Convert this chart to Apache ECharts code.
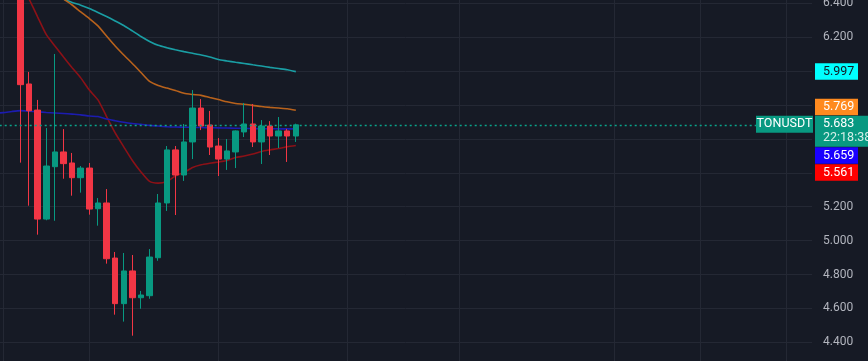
<!DOCTYPE html>
<html>
<head>
<meta charset="utf-8">
<script src="https://cdn.jsdelivr.net/npm/echarts@6/dist/echarts.min.js"></script>
<style>
html,body{margin:0;padding:0;background:#161a25;}
#chart{width:868px;height:361px;}
</style>
</head>
<body>
<div id="chart"></div>
<script>
// ---- data (daily bars, TONUSDT) ----
const symbol = 'TONUSDT';
const countdown = '22:18:38';
const firstCandleIndex = 3;   // category index of first visible candle
const categoryCount = 96;
const categories = Array.from({length: categoryCount}, (_, i) => 'Bar ' + (i + 1));

const opens  = [6.52, 5.924, 5.770, 5.127, 5.436, 5.523, 5.458, 5.371, 5.428, 5.188, 5.222, 4.897, 4.628, 4.821, 4.663, 4.675, 4.899, 5.222, 5.535, 5.387, 5.582, 5.782, 5.682, 5.558, 5.481, 5.523, 5.641, 5.688, 5.582, 5.676, 5.617, 5.647, 5.617];
const closes = [5.920, 5.766, 5.127, 5.440, 5.523, 5.454, 5.371, 5.428, 5.186, 5.222, 4.893, 4.628, 4.821, 4.663, 4.679, 4.903, 5.222, 5.535, 5.387, 5.582, 5.782, 5.676, 5.552, 5.481, 5.529, 5.647, 5.688, 5.582, 5.676, 5.617, 5.647, 5.617, 5.683];
const lows   = [5.460, 5.206, 5.035, 5.120, 5.117, 5.365, 5.265, 5.283, 5.153, 5.088, 4.864, 4.563, 4.522, 4.439, 4.598, 4.657, 4.881, 5.175, 5.151, 5.352, 5.481, 5.652, 5.505, 5.381, 5.417, 5.428, 5.611, 5.552, 5.452, 5.505, 5.546, 5.464, 5.582];
const highs  = [6.56, 5.995, 5.830, 5.664, 6.101, 5.658, 5.517, 5.440, 5.458, 5.251, 5.304, 4.933, 4.927, 4.915, 4.703, 4.950, 5.275, 5.558, 5.558, 5.688, 5.888, 5.835, 5.765, 5.605, 5.599, 5.650, 5.812, 5.806, 5.711, 5.705, 5.729, 5.659, 5.690];

// moving averages, one value per category index starting at the given index
const cyanStart = 8;
const cyanMA = [6.425, 6.405, 6.389, 6.369, 6.346, 6.322, 6.296, 6.269, 6.237, 6.204, 6.175, 6.152, 6.138, 6.126, 6.115, 6.105, 6.095, 6.083, 6.068, 6.060, 6.052, 6.045, 6.037, 6.030, 6.022, 6.015, 6.008, 5.997];
const orangeStart = 8;
const orangeMA = [6.425, 6.39, 6.349, 6.310, 6.267, 6.207, 6.148, 6.095, 6.045, 5.992, 5.939, 5.915, 5.900, 5.886, 5.869, 5.862, 5.857, 5.844, 5.832, 5.819, 5.809, 5.804, 5.798, 5.791, 5.786, 5.782, 5.778, 5.769];
const redStart = 4;
const redMA = [6.425, 6.319, 6.215, 6.148, 6.083, 6.020, 5.960, 5.888, 5.830, 5.732, 5.635, 5.553, 5.473, 5.405, 5.349, 5.339, 5.349, 5.381, 5.402, 5.431, 5.447, 5.456, 5.464, 5.473, 5.490, 5.499, 5.511, 5.526, 5.535, 5.543, 5.554, 5.561];
const blueStart = 0;
const blueMA = [5.752, 5.755, 5.762, 5.767, 5.763, 5.760, 5.756, 5.753, 5.750, 5.746, 5.742, 5.735, 5.732, 5.717, 5.707, 5.698, 5.691, 5.686, 5.680, 5.676, 5.672, 5.670, 5.669, 5.668, 5.667, 5.666, 5.665, 5.664, 5.663, 5.662, 5.661, 5.660, 5.660, 5.659, 5.659, 5.659];

const yTicks = [4.2, 4.4, 4.6, 4.8, 5.0, 5.2, 5.4, 5.6, 5.8, 6.0, 6.2, 6.4, 6.6];
const gridLineBars = [1, 11, 26, 41, 54, 72, 82, 92];

// ---- build ----
const candleData = opens.map((o, k) => [firstCandleIndex + k, o, closes[k], lows[k], highs[k]]);
const toLine = (start, arr) => arr.map((v, i) => [start + i, v]);
const lastPrice = closes[closes.length - 1];

const UP = '#089981', DOWN = '#f23645';
const chart = echarts.init(document.getElementById('chart'), null, {renderer: 'canvas'});

const lineSeries = (name, start, arr, color) => ({
  name, type: 'line', data: toLine(start, arr), showSymbol: false, symbol: 'none',
  smooth: 0.2, lineStyle: {color, width: 1.6}, z: 1, silent: true, animation: false
});

chart.setOption({
  backgroundColor: '#161a25',
  animation: false,
  grid: {left: -5.3, right: 55.9, top: -30.6, bottom: -15.2, containLabel: false, outerBoundsMode: 'none'},
  xAxis: {
    type: 'category', data: categories, boundaryGap: false,
    axisLine: {show: false}, axisTick: {show: false}, axisLabel: {show: false},
    splitLine: {show: true, interval: (idx) => gridLineBars.includes(idx), lineStyle: {color: '#242834', width: 1}}
  },
  yAxis: {
    type: 'value', position: 'right', min: yTicks[0], max: yTicks[yTicks.length - 1], interval: 0.2,
    axisLine: {show: false}, axisTick: {show: false},
    axisLabel: {color: '#b2b5be', fontSize: 12, fontFamily: 'Roboto', margin: 11,
      formatter: (v) => v.toFixed(3)},
    splitLine: {lineStyle: {color: '#242834', width: 1}}
  },
  series: [
    lineSeries('MA long', cyanStart, cyanMA, '#1a9ea4'),
    lineSeries('MA mid', orangeStart, orangeMA, '#b8621c'),
    lineSeries('MA fast', redStart, redMA, '#8c1117'),
    lineSeries('MA blue', blueStart, blueMA, '#1c1cb0'),
    {
      name: symbol, type: 'candlestick', data: candleData,
      encode: {x: 0, y: [1, 2, 3, 4]},
      barWidth: 6, z: 3,
      itemStyle: {color: UP, color0: DOWN, borderColor: UP, borderColor0: DOWN, borderWidth: 1},
      markLine: {
        silent: true, symbol: 'none', label: {show: false},
        lineStyle: {color: '#0aa58b', width: 1.3, type: [2, 3], opacity: 1},
        data: [{yAxis: lastPrice}]
      }
    }
  ]
});

// ---- right-side price labels ----
const yPix = (v) => chart.convertToPixel({yAxisIndex: 0}, v);
const boxX = 815, boxW = 43, boxH = 16.5, gap = 0.5;
const mainTop = yPix(lastPrice) - 9, mainH = 31;
const above = [{v: cyanMA[cyanMA.length - 1], bg: '#00ffff', fg: '#131722'},
               {v: orangeMA[orangeMA.length - 1], bg: '#ff8a1f', fg: '#ffffff'}];
const below = [{v: blueMA[blueMA.length - 1], bg: '#1a00ff', fg: '#ffffff'},
               {v: redMA[redMA.length - 1], bg: '#ff0000', fg: '#ffffff'}];
const boxes = [];
let limit = mainTop - gap;
above.slice().sort((a, b) => a.v - b.v).forEach(l => {
  let top = yPix(l.v) - boxH / 2;
  if (top + boxH > limit) top = limit - boxH;
  boxes.push({top, ...l});
  limit = top - gap;
});
limit = mainTop + mainH + gap;
below.slice().sort((a, b) => b.v - a.v).forEach(l => {
  let top = yPix(l.v) - boxH / 2;
  if (top < limit) top = limit;
  boxes.push({top, ...l});
  limit = top + boxH + gap;
});
const font = '12.5px Roboto';
const graphics = [];
boxes.forEach(b => {
  graphics.push({type: 'rect', shape: {x: boxX, y: b.top, width: boxW, height: boxH}, style: {fill: b.bg}, z: 100});
  graphics.push({type: 'text', x: boxX + 8, y: b.top + boxH / 2, style: {text: b.v.toFixed(3), fill: b.fg, font, textVerticalAlign: 'middle'}, z: 101});
});
graphics.push({type: 'rect', shape: {x: boxX, y: mainTop, width: 868 - boxX, height: mainH}, style: {fill: UP}, z: 100});
graphics.push({type: 'text', x: boxX + 8, y: mainTop + 8.5, style: {text: lastPrice.toFixed(3), fill: '#ffffff', font, textVerticalAlign: 'middle'}, z: 101});
graphics.push({type: 'text', x: boxX + 8, y: mainTop + 22.5, style: {text: countdown, fill: '#d6efe9', font, textVerticalAlign: 'middle'}, z: 101});
graphics.push({type: 'rect', shape: {x: 756, y: mainTop, width: 57, height: 17}, style: {fill: UP}, z: 100});
graphics.push({type: 'text', x: 756 + 28.5, y: mainTop + 8.5, style: {text: symbol, fill: '#ffffff', font, textAlign: 'center', textVerticalAlign: 'middle'}, z: 101});
chart.setOption({graphic: graphics});
</script>
</body>
</html>
